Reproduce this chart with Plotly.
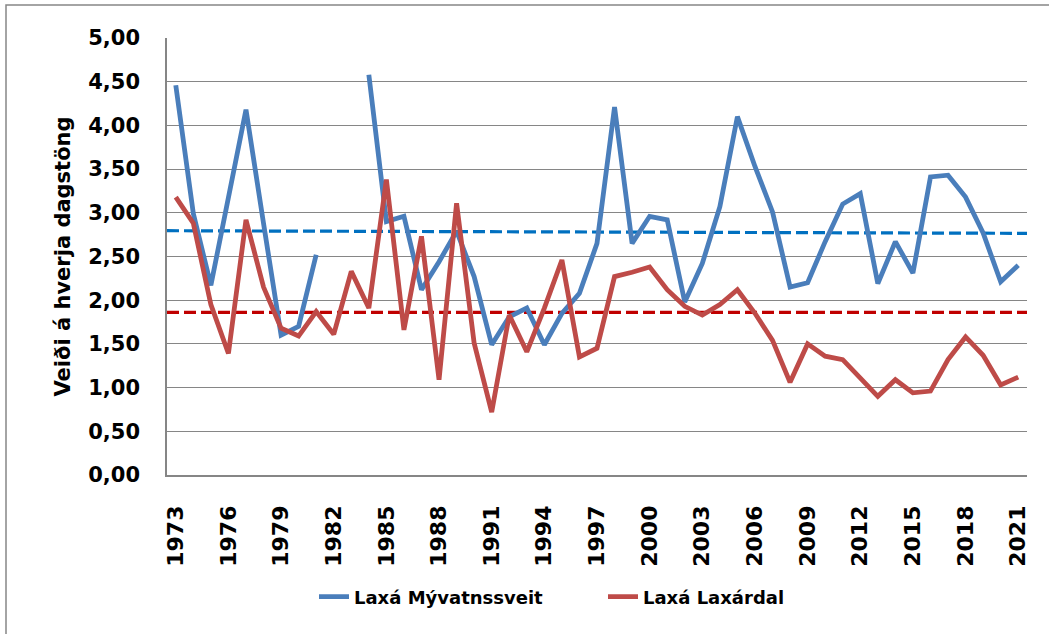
import plotly.graph_objects as go

# -----------------------------------------------------------------------------
#
# Data: catch per rod-day, Laxá Mývatnssveit and Laxá Laxárdal, 1973-2021
#
# -----------------------------------------------------------------------------
years = list(range(1973, 2022))

myvatnssveit = [4.46, 2.99, 2.17, 3.15, 4.18, 2.88, 1.60, 1.70, 2.52, None,
                None, 4.58, 2.90, 2.96, 2.12, 2.44, 2.79, 2.27, 1.49, 1.81,
                1.91, 1.49, 1.85, 2.08, 2.65, 4.21, 2.65, 2.96, 2.92, 1.98,
                2.42, 3.07, 4.10, 3.53, 3.01, 2.15, 2.20, 2.67, 3.10, 3.22,
                2.19, 2.67, 2.31, 3.41, 3.43, 3.18, 2.77, 2.21, 2.40]

laxardal = [3.18, 2.88, 1.95, 1.39, 2.92, 2.15, 1.68, 1.59, 1.87, 1.61,
            2.33, 1.91, 3.38, 1.66, 2.73, 1.09, 3.11, 1.51, 0.72, 1.83,
            1.41, 1.91, 2.46, 1.35, 1.45, 2.27, 2.32, 2.38, 2.12, 1.93,
            1.83, 1.95, 2.12, 1.85, 1.54, 1.06, 1.50, 1.36, 1.32, 1.11,
            0.90, 1.09, 0.94, 0.96, 1.32, 1.58, 1.37, 1.03, 1.12]

# reference lines (start, end)
ref_x = [1972.5, 2021.5]
myvatnssveit_ref = [2.795, 2.765]
laxardal_ref = [1.86, 1.86]

x_ticks = list(range(1973, 2022, 3))
y_ticks = [0, 0.5, 1, 1.5, 2, 2.5, 3, 3.5, 4, 4.5, 5]

FONT = 'DejaVu Sans'
GRID = '#868686'

# -----------------------------------------------------------------------------
#
# Build the figure
#
# -----------------------------------------------------------------------------
fig = go.Figure()

fig.add_trace(go.Scatter(x=ref_x, y=myvatnssveit_ref, mode='lines', showlegend=False,
                         line=dict(color='#0070C0', width=3.2, dash='12px,5px')))
fig.add_trace(go.Scatter(x=ref_x, y=laxardal_ref, mode='lines', showlegend=False,
                         line=dict(color='#C00000', width=3.2, dash='12px,5px')))

fig.add_trace(go.Scatter(x=years, y=myvatnssveit, mode='lines', name='Laxá Mývatnssveit',
                         connectgaps=False, line=dict(color='#4A7EBB', width=4.8)))
fig.add_trace(go.Scatter(x=years, y=laxardal, mode='lines', name='Laxá Laxárdal',
                         line=dict(color='#BE4B48', width=4.8)))

# outer chart border (only top and left edges are inside the picture)
fig.add_shape(type='rect', xref='paper', yref='paper',
              x0=(6 - 167) / 860, y0=(475 - 5) / 437, x1=1.3, y1=-0.6,
              line=dict(color=GRID, width=1.5), layer='below')

# y axis title
fig.add_annotation(text='Veiði á hverja dagstöng', xref='paper', yref='paper',
                   x=(62 - 167) / 860, y=0.5, xanchor='center', yanchor='middle',
                   textangle=-90, showarrow=False,
                   font=dict(family=FONT, size=21, color='black', weight='bold'))

fig.update_layout(
    width=1049, height=634,
    margin=dict(l=167, r=22, t=38, b=159),
    paper_bgcolor='white', plot_bgcolor='white',
    separators=',.',
    showlegend=True,
    legend=dict(orientation='h', x=(314 - 167) / 860, xanchor='left',
                y=(475 - 597) / 437, yanchor='middle',
                font=dict(family=FONT, size=18, color='black', weight='bold'),
                entrywidth=244, entrywidthmode='pixels'),
    xaxis=dict(range=[1972.5, 2021.5], tickmode='array', tickvals=x_ticks,
               ticktext=[str(t) for t in x_ticks], tickangle=-90,
               showgrid=False, zeroline=False, showline=True, linecolor=GRID, linewidth=1.5,
               ticks='', ticklabelstandoff=20,
               tickfont=dict(family=FONT, size=22, color='black', weight='bold')),
    yaxis=dict(range=[0, 5], tickmode='array', tickvals=y_ticks, tickformat='.2f',
               showgrid=True, gridcolor=GRID, gridwidth=1.3, zeroline=False,
               showline=True, linecolor=GRID, linewidth=1.5, ticks='', ticklabelstandoff=21,
               tickfont=dict(family=FONT, size=21, color='black', weight='bold')),
)

# page body has a default margin; remove it so the figure sits at the top-left corner
fig.write_html('out.html', config={'displayModeBar': False},
               post_script="document.body.style.margin='0';")
